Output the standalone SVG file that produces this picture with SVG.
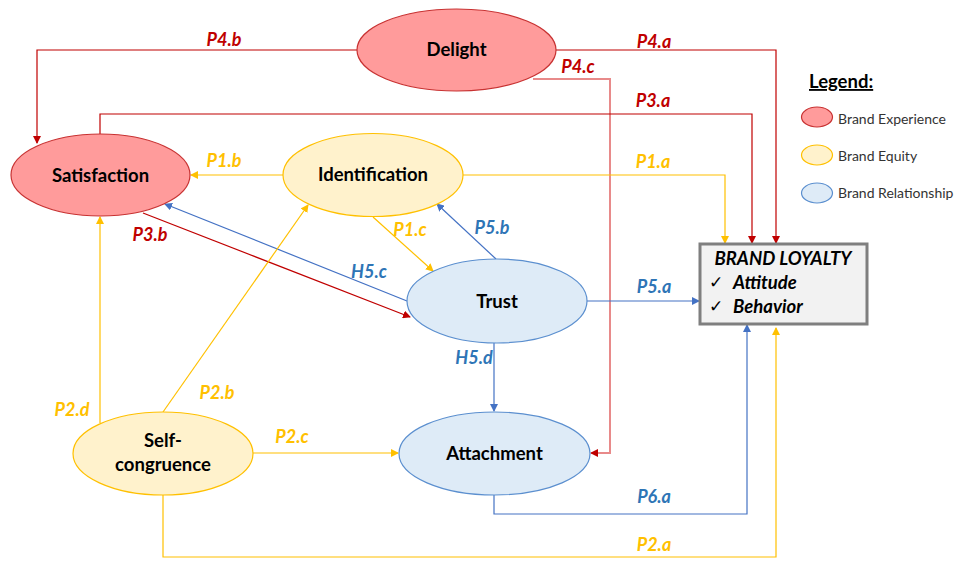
<svg xmlns="http://www.w3.org/2000/svg" width="954" height="561" viewBox="0 0 954 561">
<defs>
<marker id="ar" markerWidth="8" markerHeight="8" refX="7" refY="4" orient="auto" markerUnits="userSpaceOnUse"><path d="M0,0 L8,4 L0,8 z" fill="#c00000"/></marker>
<marker id="ap" markerWidth="8" markerHeight="8" refX="7" refY="4" orient="auto" markerUnits="userSpaceOnUse"><path d="M0,0 L8,4 L0,8 z" fill="#c00000"/></marker>
<marker id="ay" markerWidth="8" markerHeight="8" refX="7" refY="4" orient="auto" markerUnits="userSpaceOnUse"><path d="M0,0 L8,4 L0,8 z" fill="#ffc000"/></marker>
<marker id="ab" markerWidth="8" markerHeight="8" refX="7" refY="4" orient="auto" markerUnits="userSpaceOnUse"><path d="M0,0 L8,4 L0,8 z" fill="#4472c4"/></marker>
</defs>
<style>
.exp{fill:#ff9b9b;stroke:#c83232;stroke-width:1.2}
.eq{fill:#fff2cc;stroke:#ffc000;stroke-width:1.2}
.rel{fill:#deebf7;stroke:#5b8fcf;stroke-width:1.2}
.nt{font-family:Lato,"Open Sans",sans-serif;font-weight:bold;font-size:18.5px;fill:#000;text-anchor:middle}
.lb{font-family:Lato,"Open Sans",sans-serif;font-weight:bold;font-style:italic;font-size:18px;text-anchor:middle}
.r{stroke:#c00000;fill:none;stroke-width:1.2}
.p{stroke:#e88a8a;fill:none;stroke-width:2}
.y{stroke:#ffc000;fill:none;stroke-width:1.2}
.b{stroke:#4472c4;fill:none;stroke-width:1.2}
.lr{fill:#c00000}.ly{fill:#ffc000}.lbl{fill:#2e75b6}
.lg{font-family:Lato,"Open Sans",sans-serif;font-size:14px;fill:#333}
.bx{font-family:Lato,"Open Sans",sans-serif;font-weight:bold;font-style:italic;font-size:18.5px;fill:#000}
.ck{font-family:"DejaVu Sans",sans-serif;font-size:17px;fill:#000}
</style>
<g id="connectors">
<polyline class="r" points="357,50 37,50 37,143" marker-end="url(#ar)"/>
<polyline class="r" points="556,50 776,50 776,243" marker-end="url(#ar)"/>
<polyline class="p" points="533,79 610,79 610,453 591,453" marker-end="url(#ap)"/>
<polyline class="r" points="100,134 100,114 752,114 752,243" marker-end="url(#ar)"/>
<polyline class="y" points="463,175 725,175 725,243" marker-end="url(#ay)"/>
<line class="y" x1="283" y1="175" x2="191" y2="175" marker-end="url(#ay)"/>
<line class="y" x1="373" y1="217" x2="433" y2="271" marker-end="url(#ay)"/>
<line class="b" x1="496" y1="259" x2="437" y2="204" marker-end="url(#ab)"/>
<line class="b" x1="407" y1="301" x2="165" y2="204" marker-end="url(#ab)"/>
<line class="r" x1="143" y1="213" x2="410" y2="317" marker-end="url(#ar)"/>
<line class="y" x1="163" y1="412" x2="308" y2="205" marker-end="url(#ay)"/>
<line class="y" x1="100" y1="423" x2="100" y2="217" marker-end="url(#ay)"/>
<line class="y" x1="253" y1="453" x2="398" y2="453" marker-end="url(#ay)"/>
<polyline class="y" points="163,495 163,557 776,557 776,328" marker-end="url(#ay)"/>
<polyline class="b" points="494,495 494,514 747,514 747,325" marker-end="url(#ab)"/>
<line class="b" x1="587" y1="301" x2="699" y2="301" marker-end="url(#ab)"/>
<line class="b" x1="494" y1="343" x2="494" y2="411" marker-end="url(#ab)"/>
</g>
<g id="labels">
<text class="lb lr" x="224" y="46">P4.b</text>
<text class="lb lr" x="654" y="48">P4.a</text>
<text class="lb lr" x="578" y="73">P4.c</text>
<text class="lb lr" x="653" y="107">P3.a</text>
<text class="lb ly" x="653" y="168">P1.a</text>
<text class="lb ly" x="224" y="167">P1.b</text>
<text class="lb ly" x="410" y="236">P1.c</text>
<text class="lb lbl" x="492" y="234">P5.b</text>
<text class="lb lbl" x="369" y="278">H5.c</text>
<text class="lb lr" x="150" y="241">P3.b</text>
<text class="lb lbl" x="474" y="364">H5.d</text>
<text class="lb lbl" x="654" y="293">P5.a</text>
<text class="lb ly" x="217" y="399">P2.b</text>
<text class="lb ly" x="72" y="416">P2.d</text>
<text class="lb ly" x="292" y="443">P2.c</text>
<text class="lb lbl" x="654" y="503">P6.a</text>
<text class="lb ly" x="654" y="551">P2.a</text>
</g>
<g id="delight"><ellipse class="exp" cx="456.5" cy="50" rx="99.5" ry="41"/><text class="nt" x="456.5" y="56">Delight</text></g>
<g id="satisfaction"><ellipse class="exp" cx="100.5" cy="175" rx="89.5" ry="41"/><text class="nt" x="100.5" y="182">Satisfaction</text></g>
<g id="identification"><ellipse class="eq" cx="373" cy="175" rx="90" ry="41.5"/><text class="nt" x="373" y="181">Identification</text></g>
<g id="trust"><ellipse class="rel" cx="497" cy="301" rx="90" ry="42"/><text class="nt" x="497" y="308">Trust</text></g>
<g id="attachment"><ellipse class="rel" cx="494.5" cy="453.5" rx="95.5" ry="41.5"/><text class="nt" x="494.5" y="460">Attachment</text></g>
<g id="selfcongruence"><ellipse class="eq" cx="163" cy="453.5" rx="90" ry="41.5"/><text class="nt" x="163" y="447">Self-</text><text class="nt" x="163" y="471">congruence</text></g>
<g id="brandloyalty">
<rect x="700" y="244" width="167" height="80" fill="#f2f2f2" stroke="#7f7f7f" stroke-width="3"/>
<text class="bx" x="783" y="265" text-anchor="middle">BRAND LOYALTY</text>
<text class="ck" x="709" y="288">✓</text>
<text class="bx" x="733" y="289">Attitude</text>
<text class="ck" x="709" y="312">✓</text>
<text class="bx" x="733" y="313">Behavior</text>
</g>
<g id="legend">
<text x="809" y="88" font-family="Lato,'Open Sans',sans-serif" font-weight="bold" font-size="18.5" text-decoration="underline" fill="#000">Legend:</text>
<ellipse class="exp" cx="817" cy="117" rx="15.5" ry="10"/>
<text class="lg" x="838" y="124">Brand Experience</text>
<ellipse class="eq" cx="817" cy="155" rx="15.5" ry="10"/>
<text class="lg" x="838" y="161">Brand Equity</text>
<ellipse class="rel" cx="817" cy="193" rx="15.5" ry="10"/>
<text class="lg" x="838" y="198">Brand Relationship</text>
</g>
</svg>
